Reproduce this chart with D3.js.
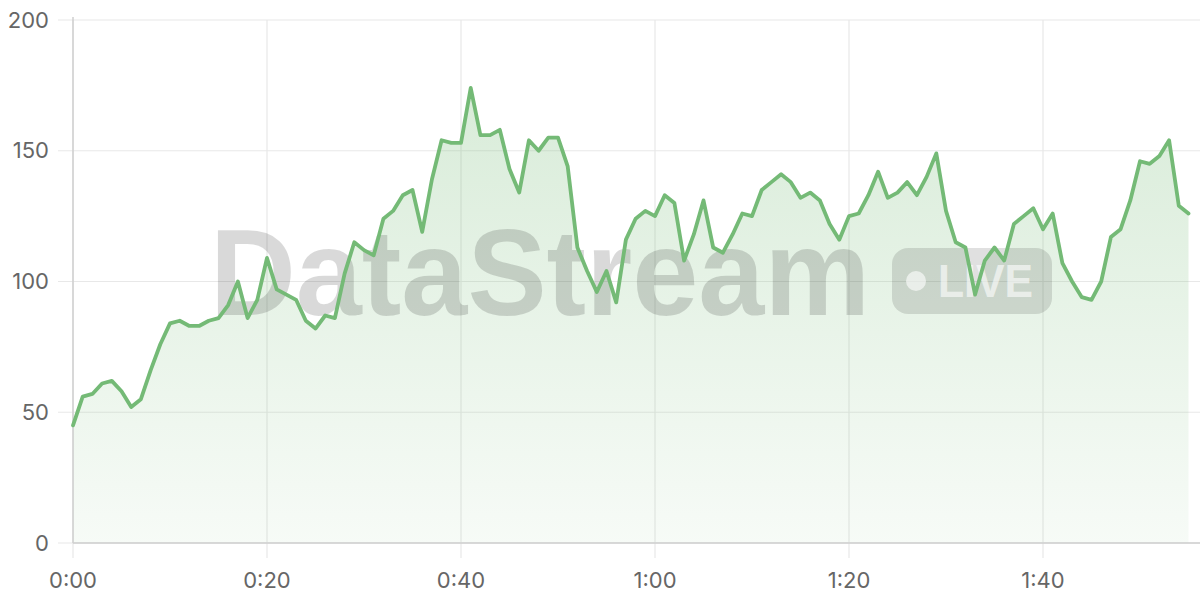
<!DOCTYPE html>
<html>
<head>
<meta charset="utf-8">
<script src="https://cdn.jsdelivr.net/npm/d3@7"></script>
<style>
  html, body { margin: 0; padding: 0; background: #fff; }
  svg { display: block; }
</style>
</head>
<body>
<svg id="chart" width="1200" height="600"></svg>
<script>
// ---- data (seconds elapsed, value) ----
const seconds = d3.range(0, 116);
const values = [
  45, 56, 57, 61, 62, 58, 52, 55, 66, 76,
  84, 85, 83, 83, 85, 86, 91, 100, 86, 93,
  109, 97, 95, 93, 85, 82, 87, 86, 103, 115,
  112, 110, 124, 127, 133, 135, 119, 139, 154, 153,
  153, 174, 156, 156, 158, 143, 134, 154, 150, 155,
  155, 144, 113, 104, 96, 104, 92, 116, 124, 127,
  125, 133, 130, 108, 118, 131, 113, 111, 118, 126,
  125, 135, 138, 141, 138, 132, 134, 131, 122, 116,
  125, 126, 133, 142, 132, 134, 138, 133, 140, 149,
  127, 115, 113, 95, 108, 113, 108, 122, 125, 128,
  120, 126, 107, 100, 94, 93, 100, 117, 120, 131,
  146, 145, 148, 154, 129, 126
];
const yTicks = [0, 50, 100, 150, 200];
const xTicks = [0, 20, 40, 60, 80, 100];
const watermarkText = "DataStream";
const badgeText = "LIVE";

(function () {
const data = seconds.map((s, i) => ({ t: s, v: values[i] }));

const svg = d3.select("#chart");
const mL = 73, mR = 1188.5, mT = 20, mB = 543;
const gridRight = 1200;

const x = d3.scaleLinear().domain([0, 115]).range([mL, mR]);
const y = d3.scaleLinear().domain([0, 200]).range([mB, mT]);

const fmt = s => `${Math.floor(s / 60)}:${String(s % 60).padStart(2, "0")}`;
const font = "Inter, 'Liberation Sans', Arial, sans-serif";

// gradient
const defs = svg.append("defs");
const grad = defs.append("linearGradient").attr("id", "areaGrad")
  .attr("gradientUnits", "userSpaceOnUse")
  .attr("x1", 0).attr("x2", 0)
  .attr("y1", y(175)).attr("y2", y(0));
grad.append("stop").attr("offset", "0%").attr("stop-color", "#76bb77").attr("stop-opacity", 0.28);
grad.append("stop").attr("offset", "100%").attr("stop-color", "#76bb77").attr("stop-opacity", 0.06);

// horizontal grid
svg.append("g").selectAll("line").data(yTicks).join("line")
  .attr("x1", mL - 15).attr("x2", gridRight)
  .attr("y1", d => y(d)).attr("y2", d => y(d))
  .attr("stroke", "#e8e8e8").attr("stroke-width", 1.2);

// vertical grid
svg.append("g").selectAll("line").data(xTicks).join("line")
  .attr("x1", d => x(d)).attr("x2", d => x(d))
  .attr("y1", mT).attr("y2", mB + 15)
  .attr("stroke", "#e8e8e8").attr("stroke-width", 1.2);

// area
const area = d3.area().x(d => x(d.t)).y0(y(0)).y1(d => y(d.v)).curve(d3.curveLinear);
svg.append("path").datum(data).attr("d", area).attr("fill", "url(#areaGrad)");

// axis lines
svg.append("line").attr("x1", mL).attr("x2", mL).attr("y1", mT - 3).attr("y2", mB)
  .attr("stroke", "#cfcfcf").attr("stroke-width", 1.5);
svg.append("line").attr("x1", mL).attr("x2", gridRight).attr("y1", mB).attr("y2", mB)
  .attr("stroke", "#cfcfcf").attr("stroke-width", 1.5);

// watermark
const wm = svg.append("g").attr("pointer-events", "none");
wm.append("text").text(watermarkText)
  .attr("x", 210).attr("y", 315)
  .attr("font-family", "'Liberation Sans', Arial, sans-serif")
  .attr("font-weight", 700).attr("font-size", 122)
  .attr("textLength", 660).attr("lengthAdjust", "spacingAndGlyphs")
  .attr("fill", "#000").attr("fill-opacity", 0.15);
wm.append("rect").attr("x", 892).attr("y", 248).attr("width", 160).attr("height", 66)
  .attr("rx", 16).attr("fill", "#000").attr("fill-opacity", 0.12);
wm.append("circle").attr("cx", 916).attr("cy", 281).attr("r", 10)
  .attr("fill", "#fff").attr("fill-opacity", 0.6);
wm.append("text").text(badgeText)
  .attr("x", 938).attr("y", 297)
  .attr("font-family", "'Liberation Sans', Arial, sans-serif")
  .attr("font-weight", 700).attr("font-size", 47)
  .attr("textLength", 95).attr("lengthAdjust", "spacingAndGlyphs")
  .attr("fill", "#fff").attr("fill-opacity", 0.6);

// line
const line = d3.line().x(d => x(d.t)).y(d => y(d.v)).curve(d3.curveLinear);
svg.append("path").datum(data).attr("d", line)
  .attr("fill", "none").attr("stroke", "#74ba76").attr("stroke-width", 3.8)
  .attr("stroke-linejoin", "round").attr("stroke-linecap", "round");

// y labels
svg.append("g").selectAll("text").data(yTicks).join("text")
  .attr("x", 49).attr("y", d => y(d)).attr("dy", "0.35em")
  .attr("text-anchor", "end")
  .attr("font-family", font).attr("font-size", 22).attr("fill", "#666")
  .text(d => d);

// x labels
svg.append("g").selectAll("text").data(xTicks).join("text")
  .attr("x", d => x(d)).attr("y", 588)
  .attr("text-anchor", "middle")
  .attr("font-family", font).attr("font-size", 22).attr("fill", "#666")
  .text(d => fmt(d));
})();
</script>
</body>
</html>
